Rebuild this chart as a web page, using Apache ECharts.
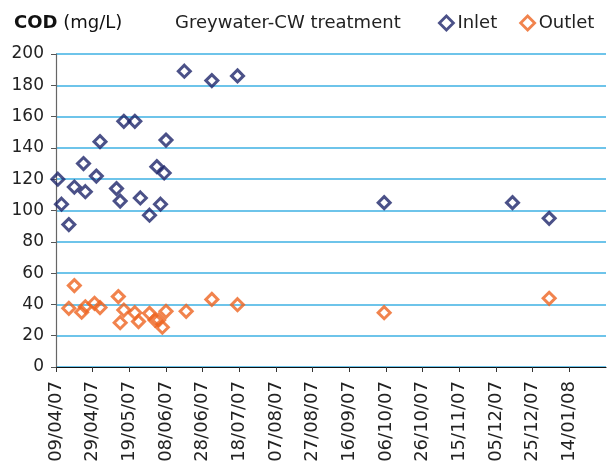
<!DOCTYPE html>
<html><head><meta charset="utf-8">
<script src="https://cdn.jsdelivr.net/npm/echarts@6/dist/echarts.min.js"></script>
<style>html,body{margin:0;padding:0;background:#fff}#c{width:607px;height:471px}</style>
</head><body><div id="c"></div>
<script>
// ---- data ----
const axisStart = '2007-04-09';
const axisEnd = '2008-02-03';
const inletDates = ['2007-04-10','2007-04-12','2007-04-16','2007-04-19','2007-04-24','2007-04-25','2007-05-01','2007-05-03','2007-05-12','2007-05-14','2007-05-16','2007-05-22','2007-05-25','2007-05-30','2007-06-03','2007-06-05','2007-06-07','2007-06-08','2007-06-18','2007-07-03','2007-07-17','2007-10-05','2007-12-14','2008-01-03'];
const inletValues = [120,104,91,115,130,112,122,144,114,106,157,157,108,97,128,104,124,145,189,183,186,105,105,95];
const outletDates = ['2007-04-16','2007-04-19','2007-04-23','2007-04-25','2007-04-30','2007-05-03','2007-05-13','2007-05-14','2007-05-16','2007-05-22','2007-05-24','2007-05-30','2007-06-02','2007-06-04','2007-06-06','2007-06-08','2007-06-19','2007-07-03','2007-07-17','2007-10-05','2008-01-03'];
const outletValues = [37.5,52,35,38.5,40.7,38,45,28.3,36.4,34.7,29,34.3,30,30,25.4,35.6,35.6,43.2,39.8,34.7,43.9];
const tickDays = 20;
const yMin = 0, yMax = 200, yStep = 20;

// ---- helpers ----
const DAY = 86400000;
function toUTC(s){const p=s.split('-').map(Number);return Date.UTC(p[0],p[1]-1,p[2]);}
const base = toUTC(axisStart);
function dayOffset(s){return Math.round((toUTC(s)-base)/DAY);}
function pad(n){return (n<10?'0':'')+n;}
function fmt(d){const t=new Date(base+d*DAY);return pad(t.getUTCDate())+'/'+pad(t.getUTCMonth()+1)+'/'+pad(t.getUTCFullYear()%100);}
const font = 'DejaVu Sans';
const navy = '#1E256A', orange = '#EE6420';

const chart = echarts.init(document.getElementById('c'), null, {renderer:'canvas'});
chart.setOption({
  animation:false,
  backgroundColor:'#fff',
  textStyle:{fontFamily:font},
  title:[
    {text:'{b|COD} (mg/L)', left:9, top:9, textStyle:{fontFamily:font,fontSize:18,fontWeight:'normal',color:'#111',rich:{b:{fontFamily:font,fontSize:18,fontWeight:'bold',color:'#111'}}}},
    {text:'Greywater-CW treatment', left:170, top:9, textStyle:{fontFamily:font,fontSize:18,fontWeight:'normal',color:'#222'}}
  ],
  legend:{
    left:438, top:14, padding:0, itemWidth:14, itemHeight:14, itemGap:22,
    itemStyle:{borderWidth:2.8},
    textStyle:{fontFamily:font,fontSize:18,color:'#222',padding:[0,0,0,-1]},
    data:['Inlet','Outlet']
  },
  grid:{left:56, right:1, top:54, bottom:104, containLabel:false},
  xAxis:{
    type:'value', min:0, max:dayOffset(axisEnd), interval:tickDays,
    axisLine:{show:true,lineStyle:{color:'#111',width:1.2}},
    axisTick:{show:true,length:5,lineStyle:{color:'#333'}},
    splitLine:{show:false},
    axisLabel:{rotate:90, margin:14, fontSize:18, color:'#222', fontFamily:font, showMaxLabel:false, formatter:v=>fmt(v)}
  },
  yAxis:{
    type:'value', min:yMin, max:yMax, interval:yStep,
    axisLine:{show:true,lineStyle:{color:'#666',width:1.2}},
    axisTick:{show:true,length:5,lineStyle:{color:'#555'}},
    splitLine:{show:true,lineStyle:{color:'#3EB1E3',width:1.6}},
    axisLabel:{margin:12, fontSize:17, color:'#222', fontFamily:font}
  },
  series:[
    {name:'Inlet', type:'scatter', symbol:'diamond', symbolSize:12,
     itemStyle:{color:'rgba(255,255,255,0)', borderColor:navy, borderWidth:3},
     data:inletDates.map((d,i)=>[dayOffset(d), inletValues[i]])},
    {name:'Outlet', type:'scatter', symbol:'diamond', symbolSize:12,
     itemStyle:{color:'rgba(255,255,255,0)', borderColor:orange, borderWidth:3},
     data:outletDates.map((d,i)=>[dayOffset(d), outletValues[i]])}
  ]
});
</script>
</body></html>
